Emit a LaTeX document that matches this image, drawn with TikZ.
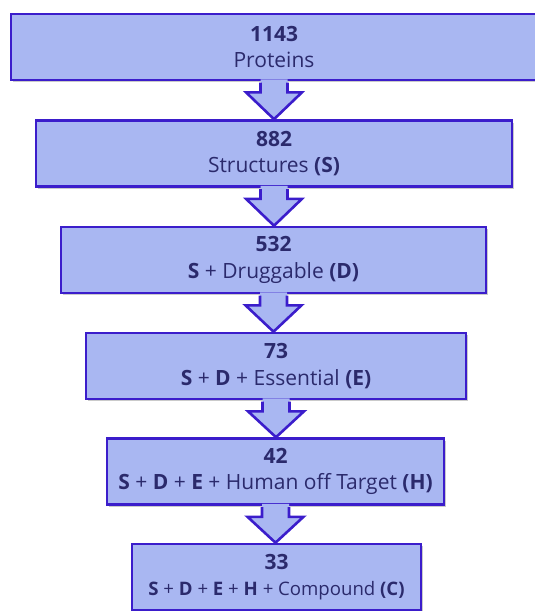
\documentclass[tikz,border=0pt]{standalone}
\usepackage{fontspec}
\setmainfont{Open Sans}
\usepackage{tikz}
\usetikzlibrary{calc,shadows}
\definecolor{boxfill}{HTML}{A9B7F2}
\definecolor{boxline}{HTML}{3B1DCB}
\definecolor{boxtext}{HTML}{2B2A6C}

\tikzset{
  stage/.style={draw=boxline, line width=2.6pt, fill=boxfill, text=boxtext,
    align=center, inner sep=0pt, minimum height=66pt,
    font=\fontsize{21}{26.5}\selectfont,
    drop shadow={shadow xshift=1.5pt, shadow yshift=-2pt, opacity=0.35, fill=black!60}},
  flowfill/.style={fill=boxfill},
  flowline/.style={draw=boxline, line width=2.6pt, line join=miter}
}

\begin{document}
\begin{tikzpicture}[x=1pt,y=1pt]
  \useasboundingbox (0,0) rectangle (535,-611);
  \node[stage, minimum width=526pt] (prot) at (274,-47) {\textbf{1143}\\Proteins};
  \node[stage, minimum width=476pt] (struc) at (274,-153.5) {\textbf{882}\\Structures \textbf{(S)}};
  \node[stage, minimum width=425pt] (drug) at (273.5,-260) {\textbf{532}\\\textbf{S} + Druggable \textbf{(D)}};
  \node[stage, minimum width=380pt] (ess) at (276,-366) {\textbf{73}\\\textbf{S} + \textbf{D} + Essential \textbf{(E)}};
  \node[stage, minimum width=337pt] (hum) at (275.5,-471.5) {\textbf{42}\\\textbf{S} + \textbf{D} + \textbf{E} + Human off Target \textbf{(H)}};
  \node[stage, minimum width=289pt] (comp) at (276.5,-577) {\textbf{33}\\\fontsize{18.6}{24}\selectfont\textbf{S} + \textbf{D} + \textbf{E} + \textbf{H} + Compound \textbf{(C)}};
  % block arrows between the stages
  \foreach \a/\b in {prot/struc,struc/drug,drug/ess,ess/hum,hum/comp}{
    \coordinate (h) at ($(\a.south)+(0,-11)$);
    \coordinate (t) at (\a.south |- \b.north);
    \fill[flowfill] ($(\a.south)+(-13.5,2)$) -- ($(h)+(-13.5,0)$) -- ($(h)+(-28,0)$) -- (t)
      -- ($(h)+(28,0)$) -- ($(h)+(13.5,0)$) -- ($(\a.south)+(13.5,2)$) -- cycle;
    \draw[flowline] ($(\a.south)+(-13.5,-1.3)$) -- ($(h)+(-13.5,0)$) -- ($(h)+(-28,0)$) -- (t)
      -- ($(h)+(28,0)$) -- ($(h)+(13.5,0)$) -- ($(\a.south)+(13.5,-1.3)$);
  }
\end{tikzpicture}
\end{document}
